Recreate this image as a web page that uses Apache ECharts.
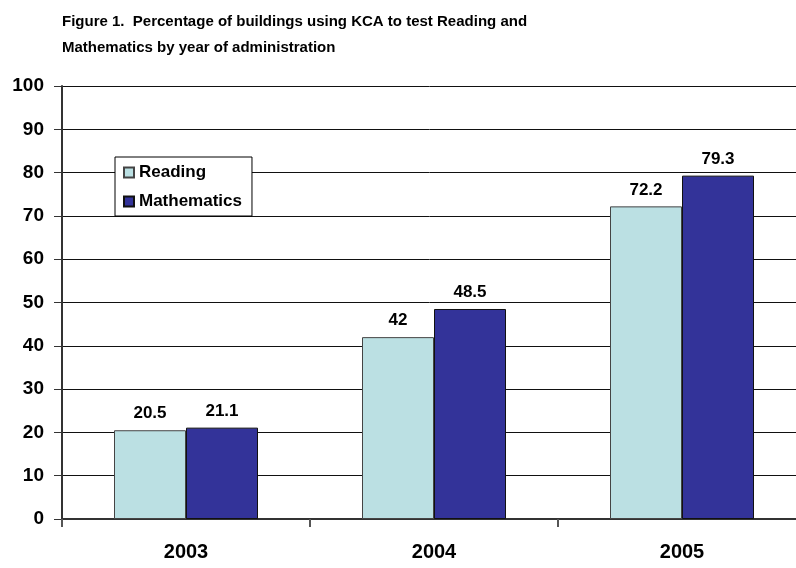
<!DOCTYPE html>
<html>
<head>
<meta charset="utf-8">
<script src="https://cdn.jsdelivr.net/npm/echarts@6/dist/echarts.min.js"></script>
<style>
  html, body { margin: 0; padding: 0; background: #fff; }
  #chart { width: 796px; height: 568px; }
</style>
</head>
<body>
<div id="chart"></div>
<script>
// data
const years = ['2003', '2004', '2005']
const reading = [20.5, 42, 72.2]
const mathematics = [21.1, 48.5, 79.3]
const yTicks = [0, 10, 20, 30, 40, 50, 60, 70, 80, 90, 100]

const FONT = '"Liberation Sans", Arial, sans-serif'

const chart = echarts.init(document.getElementById('chart'))

const barLabel = {
  show: true,
  position: 'top',
  distance: 8,
  color: '#000',
  fontFamily: FONT,
  fontWeight: 'bold',
  fontSize: 17
}

chart.setOption({
  backgroundColor: '#fff',
  animation: false,
  title: {
    text: 'Figure 1.  Percentage of buildings using KCA to test Reading and\nMathematics by year of administration',
    left: 57,
    top: 4,
    textStyle: {
      fontFamily: FONT,
      fontWeight: 'bold',
      fontSize: 15,
      lineHeight: 26,
      color: '#000'
    }
  },
  legend: {
    orient: 'vertical',
    left: 115,
    top: 157,
    padding: [7, 10, 6, 8],
    itemGap: 12,
    itemWidth: 10,
    itemHeight: 10,
    icon: 'rect',
    backgroundColor: '#fff',
    borderColor: '#000',
    borderWidth: 1,
    textStyle: {
      fontFamily: FONT,
      fontWeight: 'bold',
      fontSize: 17,
      color: '#000',
      padding: [0, 0, 0, 0]
    },
    data: ['Reading', 'Mathematics']
  },
  // plot area runs past the right edge of the picture, as in the original
  grid: { left: 62, width: 744, top: 86, bottom: 49, outerBoundsMode: 'none' },
  xAxis: {
    type: 'category',
    data: years,
    axisLine: { lineStyle: { color: '#333', width: 2 } },
    axisTick: { show: true, length: 8, inside: false, lineStyle: { color: '#555', width: 2 } },
    axisLabel: {
      margin: 23,
      color: '#000',
      fontFamily: FONT,
      fontWeight: 'bold',
      fontSize: 20
    }
  },
  yAxis: {
    type: 'value',
    min: yTicks[0],
    max: yTicks[yTicks.length - 1],
    interval: yTicks[1] - yTicks[0],
    axisLine: { show: true, lineStyle: { color: '#333', width: 2 } },
    axisTick: { show: true, length: 8, lineStyle: { color: '#333', width: 1 } },
    axisLabel: {
      margin: 18,
      color: '#000',
      fontFamily: FONT,
      fontWeight: 'bold',
      fontSize: 19
    },
    splitLine: { show: true, lineStyle: { color: '#111', width: 1 } }
  },
  series: [
    {
      name: 'Reading',
      type: 'bar',
      data: reading,
      barWidth: 72,
      barGap: '0%',
      itemStyle: { color: '#BBE0E3', borderColor: '#444', borderWidth: 1 },
      label: barLabel
    },
    {
      name: 'Mathematics',
      type: 'bar',
      data: mathematics,
      barWidth: 72,
      barGap: '0%',
      itemStyle: { color: '#333399', borderColor: '#111', borderWidth: 1 },
      label: barLabel
    }
  ]
})
</script>
</body>
</html>
